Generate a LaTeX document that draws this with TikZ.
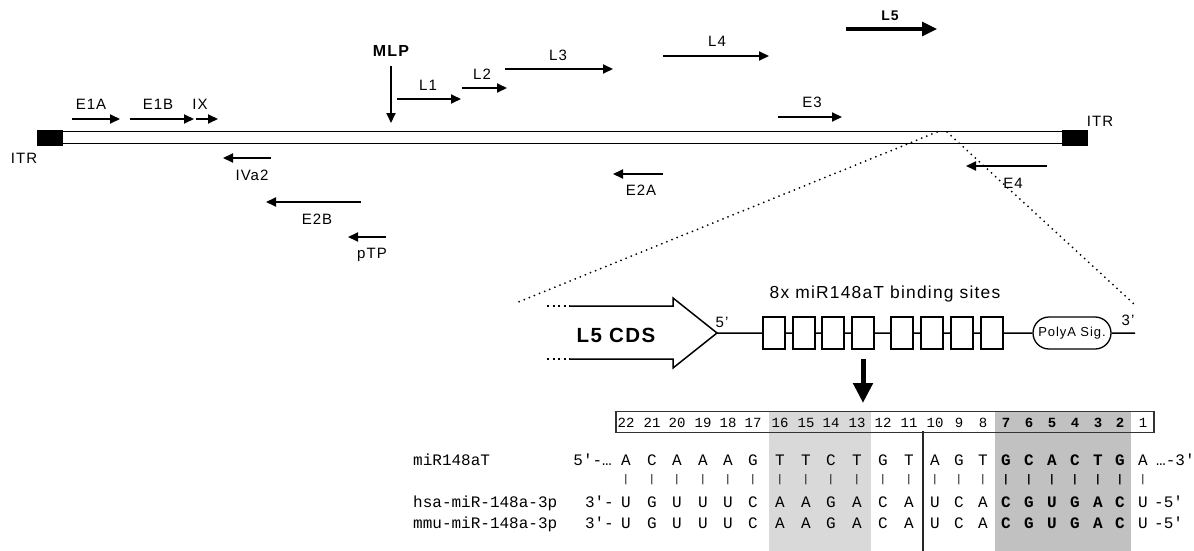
\documentclass[tikz,border=0pt]{standalone}
\usepackage{fontspec}
\setmainfont{Liberation Sans}[LetterSpace=7]
\newfontfamily\monofam{Liberation Mono}
\usetikzlibrary{arrows.meta,shapes.misc}
\definecolor{lgray}{HTML}{D9D9D9}
\definecolor{dgray}{HTML}{C1C1C1}
\begin{document}
\begin{tikzpicture}[x=1pt,y=-1pt,
  lbl/.style={anchor=base,inner sep=0pt,font=\fontsize{15}{17}\selectfont},
  blbl/.style={anchor=base,inner sep=0pt,font=\fontsize{16}{18}\selectfont\bfseries},
  gene/.style={line width=2pt,-{Triangle[length=10pt,width=9pt]}},
  biggene/.style={line width=3.2pt,-{Triangle[length=15pt,width=14pt]}},
  itrbox/.style={fill=black,draw=black,inner sep=0pt,minimum width=25pt,minimum height=15pt},
  zoomline/.style={line width=2pt,dash pattern=on 0pt off 5.5pt,line cap=round},
  site/.style={draw,line width=1.3pt,inner sep=0pt,minimum width=22pt,minimum height=32pt},
  seq/.style={anchor=base,inner sep=0pt,font=\monofam\fontsize{16}{18}\selectfont},
  bseq/.style={anchor=base,inner sep=0pt,font=\monofam\bfseries\fontsize{16}{18}\selectfont},
  num/.style={anchor=base,inner sep=0pt,font=\monofam\fontsize{14}{16}\selectfont},
  bnum/.style={anchor=base,inner sep=0pt,font=\monofam\bfseries\fontsize{14}{16}\selectfont},
  pipe/.style={anchor=center,inner sep=0pt,font=\monofam\fontsize{11}{12}\selectfont},
  bpipe/.style={anchor=center,inner sep=0pt,font=\monofam\bfseries\fontsize{11}{12}\selectfont}
]
\useasboundingbox (0,0) rectangle (1194,551);

% ---------- genome ----------
\draw[line width=1.6pt] (63,131.5) -- (1062,131.5);
\draw[line width=1.6pt] (63,143.5) -- (1062,143.5);
\node[itrbox,anchor=north west] (itrL) at (37,130) {};
\node[itrbox,anchor=north west] (itrR) at (1062,130) {};
\node[lbl] (tITRL) at (24,163) {ITR};
\node[lbl] (tITRR) at (1100,126) {ITR};

% forward transcription units
\draw[gene] (72,119) -- (120,119);
\node[lbl] (tE1A) at (91,110) {E1A};
\draw[gene] (130,119) -- (194,119);
\node[lbl] (tE1B) at (158,110) {E1B};
\draw[gene] (196,119) -- (218,119);
\node[lbl] (tIX) at (200,110) {IX};

\node[blbl] (tMLP) at (391,57) {MLP};
\draw[gene] (391,66) -- (391,123);

\draw[gene] (397,99) -- (461,99);
\node[lbl] (tL1) at (428,91) {L1};
\draw[gene] (462,88) -- (507,88);
\node[lbl] (tL2) at (482,79) {L2};
\draw[gene] (505,69) -- (613,69);
\node[lbl] (tL3) at (558,61) {L3};
\draw[gene] (663,56) -- (769,56);
\node[lbl] (tL4) at (717,47) {L4};
\draw[biggene] (846,29) -- (937,29);
\node[blbl,font=\fontsize{14}{16}\selectfont\bfseries] (tL5) at (890,21) {L5};
\draw[gene] (778,117) -- (842,117);
\node[lbl] (tE3) at (812,107) {E3};

% reverse transcription units
\draw[gene] (271,158) -- (223,158);
\node[lbl] (tIVa2) at (252,180) {IVa2};
\draw[gene] (361,202) -- (266,202);
\node[lbl] (tE2B) at (317,224) {E2B};
\draw[gene] (386,237) -- (348,237);
\node[lbl] (tpTP) at (372,258) {pTP};
\draw[gene] (663,174) -- (613,174);
\node[lbl] (tE2A) at (641,195) {E2A};
\draw[gene] (1047,166) -- (966,166);
\node[lbl] (tE4) at (1013,188) {E4};

% zoom lines
\coordinate (zA) at (937,132);
\coordinate (zB) at (947,132);
\coordinate (zL) at (516,303);
\coordinate (zR) at (1134,304);
\draw[zoomline] (zA) -- (zL);
\draw[zoomline] (zB) -- (zR);

% ---------- cassette ----------
\draw[line width=1.5pt,line join=miter] (570,306) -- (673,306) -- (673,298) -- (717,333) -- (673,368) -- (673,359) -- (570,359);
\draw[line width=1.5pt,dash pattern=on 2pt off 3.5pt] (547,306) -- (570,306);
\draw[line width=1.5pt,dash pattern=on 2pt off 3.5pt] (547,359) -- (570,359);
\node[anchor=base,inner sep=0pt,font=\fontsize{20.5}{22}\selectfont\bfseries] (cds) at (616,342) {L5 CDS};
\node[lbl] (five) at (722,327) {5'};
\coordinate (tip) at (717,333);

\node[site] (b1) at (774,333) {};
\node[site] (b2) at (804,333) {};
\node[site] (b3) at (833,333) {};
\node[site] (b4) at (863,333) {};
\node[site] (b5) at (902,333) {};
\node[site] (b6) at (932,333) {};
\node[site] (b7) at (962,333) {};
\node[site] (b8) at (992,333) {};
\node[rounded rectangle,draw,line width=1.3pt,inner sep=0pt,minimum width=78pt,minimum height=32pt,
      font=\fontsize{13}{15}\selectfont] (pa) at (1072,333) {PolyA Sig.};
\coordinate (end3) at (1135,333);
\node[lbl] (three) at (1128,325) {3'};
\node[anchor=base,inner sep=0pt,font=\fontsize{17.4}{19}\selectfont] (sites) at (885,298) {8x miR148aT binding sites};

\draw[line width=1.5pt] (tip) -- (b1) -- (b2) -- (b3) -- (b4) -- (b5) -- (b6) -- (b7) -- (b8) -- (pa) -- (end3);

\draw[line width=5pt,-{Triangle[length=20pt,width=19pt]}] (b4.south) ++(0,9) -- (863,403);

% ---------- alignment ----------
\fill[lgray] (769,411) rectangle (871,551);
\fill[dgray] (995,411) rectangle (1131,551);
\node[draw=black!80,line width=1.5pt,inner sep=0pt,anchor=north west,minimum width=538pt,minimum height=21pt] (numbox) at (615,410.5) {};
\draw[line width=1.3pt,draw=black!85] (923,431) -- (923,551);

\node[seq,anchor=base west] (lab1) at (413,465) {miR148aT};
\node[seq,anchor=base west] (lab2) at (413,507) {hsa-miR-148a-3p};
\node[seq,anchor=base west] (lab3) at (413,528) {mmu-miR-148a-3p};
\node[seq,anchor=base east] (e1) at (612,465) {5'-…};
\node[seq,anchor=base east] (e2) at (614,507) {3'-};
\node[seq,anchor=base east] (e3) at (614,528) {3'-};
\node[seq,anchor=base west] (r1) at (1156,465) {…-3'};
\node[seq,anchor=base west] (r2) at (1154,507) {-5'};
\node[seq,anchor=base west] (r3) at (1154,528) {-5'};

\foreach \x/\n/\t/\q in {626/22/A/U, 652/21/C/G, 677/20/A/U, 703/19/A/U, 728/18/A/U, 753/17/G/C,
  780/16/T/A, 806/15/T/A, 831/14/C/G, 857/13/T/A, 883/12/G/C, 909/11/T/A, 935/10/A/U,
  959/9/G/C, 983/8/T/A, 1143/1/A/U}{
  \node[num] (n\n) at (\x,427) {\n};
  \node[seq] (t\n) at (\x,465) {\t};
  \node[pipe] (p\n) at (\x,480) {|};
  \node[seq] (h\n) at (\x,507) {\q};
  \node[seq] (m\n) at (\x,528) {\q};
}
\foreach \x/\n/\t/\q in {1006/7/G/C, 1029/6/C/G, 1052/5/A/U, 1075/4/C/G, 1098/3/T/A, 1120/2/G/C}{
  \node[bnum] (n\n) at (\x,427) {\n};
  \node[bseq] (t\n) at (\x,465) {\t};
  \node[bpipe] (p\n) at (\x,480) {|};
  \node[bseq] (h\n) at (\x,507) {\q};
  \node[bseq] (m\n) at (\x,528) {\q};
}
\end{tikzpicture}
\end{document}
